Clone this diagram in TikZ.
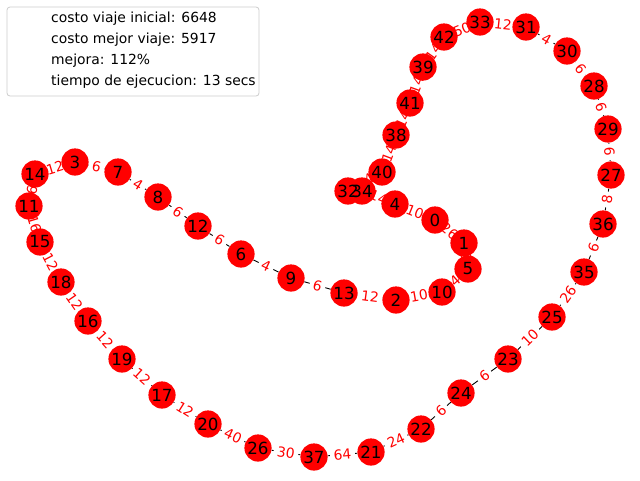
\documentclass[tikz,border=0pt]{standalone}
\usepackage{fontspec}
\setmainfont{DejaVu Sans}
\usetikzlibrary{backgrounds}
\begin{document}
\begin{tikzpicture}[x=1pt,y=-1pt,
  vtx/.style={circle,fill=red,draw=none,minimum size=27.2pt,inner sep=0pt},
  vtxt/.style={inner sep=0pt,font=\fontsize{16.7}{18}\selectfont,text=black},
  edge/.style={draw=black,line width=0.9pt},
  elbl/.style={fill=white,text=red,inner sep=3.6pt,rounded corners=3pt,font=\fontsize{13.9}{15}\selectfont,sloped,midway},
  legtxt/.style={anchor=west,inner sep=0pt,font=\fontsize{13.9}{15}\selectfont,text=black}]
\useasboundingbox (0,0) rectangle (640,480);
% node discs
\foreach \i/\x/\y in {0/435/220,1/464/243,5/468/269,10/442/292,2/396/300,13/344/293,9/291/278,6/241/254,12/198/226,8/158/197,7/118/172,3/75/162,14/35/174,11/29/206,15/40/242,18/61/282,16/88/321,19/122/359,17/162/395,20/208/424,26/258/448,37/314/457,21/371/452,22/421/429,24/461/393,23/508/359,25/552/317,35/584/272,36/603/224,27/611/175,29/608/129,28/594/86,30/567/51,31/526/27,33/480/22,42/444/37,39/423/67,41/410/103,38/396/135,40/382/172,32/348/191,34/362/191,4/395/204}
  \node[vtx] (n\i) at (\x,\y) {};
% node texts (above all discs)
\foreach \i in {0,1,5,10,2,13,9,6,12,8,7,3,14,11,15,18,16,19,17,20,26,37,21,22,24,23,25,35,36,27,29,28,30,31,33,42,39,41,38,40,32,34,4}
  \node[vtxt] (t\i) at (n\i.center) {\i};
\begin{pgfonlayer}{background}
\foreach \a/\b in {4/0,0/1,1/5,5/10,10/2,2/13,13/9,9/6,6/12,12/8,8/7,7/3,3/14,14/11,11/15,15/18,18/16,16/19,19/17,17/20,20/26,26/37,37/21,21/22,22/24,24/23,23/25,25/35,35/36,36/27,27/29,29/28,28/30,30/31,31/33,33/42,42/39,39/41,41/38,38/40,40/32,32/34,34/4}
  \draw[edge] (n\a) -- (n\b);
\foreach \a/\b/\w in {4/0/10,0/1/26,1/5/6,5/10/4,10/2/10,2/13/12,13/9/6,9/6/4,6/12/6,12/8/6,8/7/4,7/3/6,3/14/12,14/11/6,11/15/16,15/18/12,18/16/12,16/19/12,19/17/12,17/20/12,20/26/40,26/37/30,37/21/64,21/22/24,22/24/6,24/23/6,23/25/10,25/35/26,35/36/6,36/27/8,27/29/6,29/28/6,28/30/6,30/31/4,31/33/12,33/42/50,42/39/14,39/41/14,41/38/14,38/40/14,40/32/14,32/34/12,34/4/14}
  \path (n\a.center) -- node[elbl] {\w} (n\b.center);
\end{pgfonlayer}
% legend
\draw[draw=black!20,fill=white,line width=0.8pt,rounded corners=3pt] (7,7) rectangle (259,96);
\node[legtxt] (l1) at (51,19) {costo viaje inicial: 6648};
\node[legtxt] (l2) at (51,40) {costo mejor viaje: 5917};
\node[legtxt] (l3) at (51,61) {mejora: 112\%};
\node[legtxt] (l4) at (51,82) {tiempo de ejecucion: 13 secs};
\end{tikzpicture}
\end{document}
